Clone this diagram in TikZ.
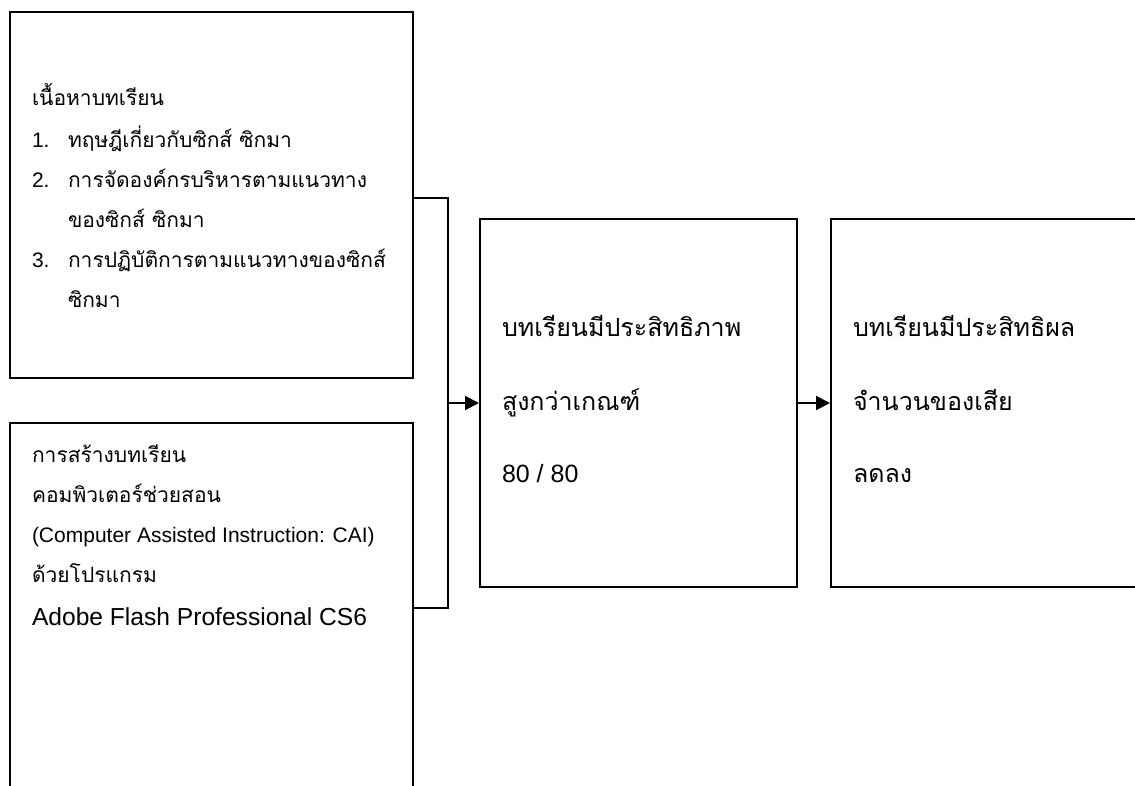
\documentclass[tikz,border=0pt]{standalone}
\usepackage{fontspec}
\setmainfont{Liberation Sans}
\newfontfamily\thai[Script=Thai]{Loma}
\usetikzlibrary{arrows.meta}
\tikzset{
  box/.style={draw, line width=2pt, rectangle, inner sep=0pt},
  link/.style={draw, line width=2pt},
  arr/.style={link, -{Triangle[length=14pt,width=14pt]}},
  txt/.style={anchor=base west, inner sep=0pt, outer sep=0pt},
  small/.style={font=\fontsize{21}{25}\selectfont},
  big/.style={font=\fontsize{25}{30}\selectfont},
}
\begin{document}
\begin{tikzpicture}[x=1pt,y=-1pt]
\useasboundingbox (0,0) rectangle (1135,785);
% boxes
\node[box, minimum width=403pt, minimum height=366pt] (b1) at (211.5,195) {};
\node[box, minimum width=403pt, minimum height=377pt] (b2) at (211.5,611.5) {};
\node[box, minimum width=317pt, minimum height=368pt] (b3) at (638.5,403) {};
\node[box, minimum width=330pt, minimum height=368pt] (b4) at (996,403) {};
% connectors
\coordinate (bt) at (448,198);
\coordinate (bb) at (448,608);
\coordinate (j) at (448,403);
\draw[link] (b1.east |- bt) -- (bt) -- (bb) -- (b2.east |- bb);
\draw[arr] (j) -- (b3.west);
\draw[arr] (b3.east) -- (b4.west);
% box 1 text
\node[txt, small] (t11) at (32,105) {\thai เนื้อหาบทเรียน};
\node[txt, small] (n1) at (32,147) {1.};
\node[txt, small] (t12) at (68,147) {\thai ทฤษฎีเกี่ยวกับซิกส์ ซิกมา};
\node[txt, small] (n2) at (32,187) {2.};
\node[txt, small] (t13) at (68,187) {\thai การจัดองค์กรบริหารตามแนวทาง};
\node[txt, small] (t14) at (68,227) {\thai ของซิกส์ ซิกมา};
\node[txt, small] (n3) at (32,267) {3.};
\node[txt, small] (t15) at (68,267) {\thai การปฏิบัติการตามแนวทางของซิกส์};
\node[txt, small] (t16) at (68,307) {\thai ซิกมา};
% box 2 text
\node[txt, small] (t21) at (32,462) {\thai การสร้างบทเรียน};
\node[txt, small] (t22) at (32,502) {\thai คอมพิวเตอร์ช่วยสอน};
\node[txt, small] (t23) at (32,542) {(Computer Assisted Instruction: CAI)};
\node[txt, small] (t24) at (32,582) {\thai ด้วยโปรแกรม};
\node[txt, font=\fontsize{24.6}{29}\selectfont] (t25) at (32,625) {Adobe Flash Professional CS6};
% box 3 text
\node[txt, big] (t31) at (502,336) {\thai บทเรียนมีประสิทธิภาพ};
\node[txt, big] (t32) at (502,410) {\thai สูงกว่าเกณฑ์};
\node[txt, big] (t33) at (502,482) {80 / 80};
% box 4 text
\node[txt, big] (t41) at (853,336) {\thai บทเรียนมีประสิทธิผล};
\node[txt, big] (t42) at (853,410) {\thai จำนวนของเสีย};
\node[txt, big] (t43) at (853,482) {\thai ลดลง};
\end{tikzpicture}
\end{document}
